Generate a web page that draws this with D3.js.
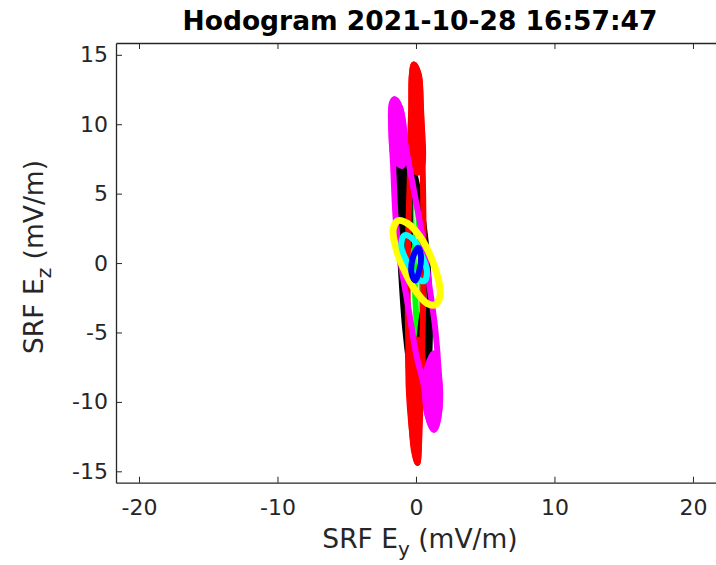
<!DOCTYPE html>
<html>
<head>
<meta charset="utf-8">
<script src="https://cdn.jsdelivr.net/npm/d3@7/dist/d3.min.js"></script>
<style>
  html, body { margin: 0; padding: 0; background: #fff; }
  svg { display: block; }
  text { font-family: "DejaVu Sans", sans-serif; fill: #262626; }
</style>
</head>
<body>
<div id="chart"></div>
<script>
// ---- Data (SRF Ey, SRF Ez in mV/m) ----
const titleText = "Hodogram 2021-10-28 16:57:47";
const xTicks = [-20, -10, 0, 10, 20];
const yTicks = [-15, -10, -5, 0, 5, 10, 15];
const xDomain = [-21.66, 21.7];
const yDomain = [-15.82, 15.85];

// open loops (traced outlines)
const greenLoop = [[-0.3,5.5],[0.1,4],[0.35,0],[0.45,-4],[0.35,-6.5],[0.1,-5],[-0.15,0],[-0.35,4]];
const blackLoopA = [[-1.05,8.7],[-0.6,8],[0.1,5.5],[0.65,2],[0.95,-2],[1.0,-5.5],[0.75,-8.5],[0.3,-9.1],[-0.3,-8],[-0.75,-5],[-1.05,-1],[-1.25,3],[-1.3,6.5]];
const blackLoopC = [[0.45,-8.8],[0.65,-6],[0.6,-3],[0.3,-5],[0.2,-7.5]];
const redLoopA = [[-0.15,14.3],[0.2,13.6],[0.35,11.5],[0.5,6],[0.55,0],[0.45,-6],[0.25,-11],[0.1,-14.4],[-0.15,-13.5],[-0.35,-11],[-0.55,-6],[-0.6,0],[-0.45,6],[-0.3,11.5],[-0.3,13.5]];
const magentaLoopA = [[-1.55,11.8],[-1.15,11.2],[-0.75,8.5],[-0.2,5.5],[0.45,2],[0.95,-1.5],[1.4,-4.8],[1.65,-8],[1.7,-10.5],[1.45,-11.8],[1.3,-12.0],[0.85,-11],[0.6,-9],[0.0,-6.5],[-0.5,-3.5],[-1.1,0],[-1.45,3],[-1.65,7],[-1.8,10],[-1.75,11.5]];
const yellowLoop = [[-1.3,3.05],[-0.6,2.85],[0.3,1.9],[1.1,0.4],[1.6,-1.1],[1.75,-2.3],[1.4,-3.0],[0.8,-2.9],[-0.1,-1.9],[-0.9,-0.4],[-1.45,1.1],[-1.65,2.4]];
const cyanLoop = [[-0.85,2.0],[-0.3,1.8],[0.4,0.6],[0.8,-0.6],[0.6,-1.3],[0.1,-1.1],[-0.6,0],[-1.05,1.2]];
const blueLoop = [[0.15,1.1],[0.35,0.6],[0.25,-0.5],[-0.05,-1.25],[-0.3,-0.8],[-0.25,0.3]];

// densely overdrawn regions (where many cycles overlap into solid colour)
const blackDenseTop = [[-1.05,8.7],[-0.6,8],[-0.45,4],[-0.6,1],[-1.1,1.5],[-1.3,5]];
const redDenseTop = [[-0.15,14.3],[0.2,13.5],[0.35,11],[0.45,7],[0.1,6.5],[-0.35,7.5],[-0.35,11],[-0.3,13.5]];
const redDenseBottom = [[0.1,-14.4],[0.3,-11],[0.45,-6.5],[0.1,-5.5],[-0.45,-6],[-0.55,-8],[-0.35,-11.5],[-0.1,-13.5]];
const magentaDenseTop = [[-1.55,11.8],[-1.15,11.2],[-0.8,8.5],[-1.0,7],[-1.55,7.5],[-1.75,10]];
const magentaDenseBottom = [[1.3,-12.0],[1.7,-10.5],[1.65,-8],[1.3,-6.5],[0.7,-8],[0.85,-11]];

const seriesColors = ["#00ff00", "#000000", "#ff0000", "#ff00ff", "#ffff00", "#00ffff", "#0000ff"];
const seriesWidths = [6, 6, 6, 6, 7, 6, 6];
const seriesLoops = [
  [greenLoop],
  [blackLoopA, blackLoopC],
  [redLoopA],
  [magentaLoopA],
  [yellowLoop],
  [cyanLoop],
  [blueLoop]
];
const seriesDense = [
  [],
  [blackDenseTop],
  [redDenseTop, redDenseBottom],
  [magentaDenseTop, magentaDenseBottom],
  [], [], []
];

// ---- Layout ----
const W = 716, H = 565;
const plot = { left: 116, top: 43, right: 716.5, bottom: 482.7 };

const svg = d3.select("#chart").append("svg").attr("width", W).attr("height", H);

const x = d3.scaleLinear().domain(xDomain).range([plot.left, plot.right]);
const y = d3.scaleLinear().domain(yDomain).range([plot.bottom, plot.top]);

svg.append("clipPath").attr("id", "clip").append("rect")
  .attr("x", plot.left).attr("y", plot.top)
  .attr("width", plot.right - plot.left).attr("height", plot.bottom - plot.top);

const line = d3.line()
  .x(d => x(d[0])).y(d => y(d[1]))
  .curve(d3.curveCatmullRomClosed.alpha(0.5));

const g = svg.append("g").attr("clip-path", "url(#clip)");
seriesLoops.forEach((loops, i) => {
  seriesDense[i].forEach(loop => {
    g.append("path")
      .attr("d", line(loop))
      .attr("fill", seriesColors[i])
      .attr("stroke", seriesColors[i])
      .attr("stroke-width", seriesWidths[i])
      .attr("stroke-linejoin", "round");
  });
  loops.forEach(loop => {
    g.append("path")
      .attr("d", line(loop))
      .attr("fill", "none")
      .attr("stroke", seriesColors[i])
      .attr("stroke-width", seriesWidths[i])
      .attr("stroke-linejoin", "round");
  });
});

// ---- Axes ----
const axisColor = "#262626";
const tickLen = 6;
const fmt = d => String(d);
const xAxisB = d3.axisBottom(x).tickValues(xTicks).tickSizeInner(-tickLen).tickSizeOuter(0).tickPadding(17).tickFormat(fmt);
const xAxisT = d3.axisTop(x).tickValues(xTicks).tickSizeInner(-tickLen).tickSizeOuter(0).tickFormat("");
const yAxisL = d3.axisLeft(y).tickValues(yTicks).tickSizeInner(-tickLen).tickSizeOuter(0).tickPadding(8).tickFormat(fmt);

const gb = svg.append("g").attr("transform", `translate(0,${plot.bottom})`).call(xAxisB);
const gt = svg.append("g").attr("transform", `translate(0,${plot.top})`).call(xAxisT);
const gl = svg.append("g").attr("transform", `translate(${plot.left},0)`).call(yAxisL);

[gb, gt, gl].forEach(a => {
  a.select(".domain").attr("stroke", axisColor).attr("stroke-width", 1.3);
  a.selectAll(".tick line").attr("stroke", axisColor).attr("stroke-width", 1);
  a.selectAll(".tick text").attr("fill", axisColor).style("font-size", "22px").style("font-family", "DejaVu Sans, sans-serif");
});
gb.selectAll(".tick text").attr("dy", "0.71em");

// ---- Title & labels ----
svg.append("text")
  .attr("x", 420).attr("y", 30)
  .attr("text-anchor", "middle")
  .style("font-size", "26.5px").style("font-weight", "bold").style("fill", "#000")
  .text(titleText);

const xl = svg.append("text")
  .attr("x", 420).attr("y", 548)
  .attr("text-anchor", "middle")
  .style("font-size", "26.5px");
xl.append("tspan").text("SRF E");
xl.append("tspan").attr("dy", 8).style("font-size", "20px").text("y");
xl.append("tspan").attr("dy", -8).text(" (mV/m)");

const yl = svg.append("text")
  .attr("transform", `translate(43,257) rotate(-90)`)
  .attr("text-anchor", "middle")
  .style("font-size", "26.5px");
yl.append("tspan").text("SRF E");
yl.append("tspan").attr("dy", 8).style("font-size", "20px").text("z");
yl.append("tspan").attr("dy", -8).text(" (mV/m)");
</script>
</body>
</html>
